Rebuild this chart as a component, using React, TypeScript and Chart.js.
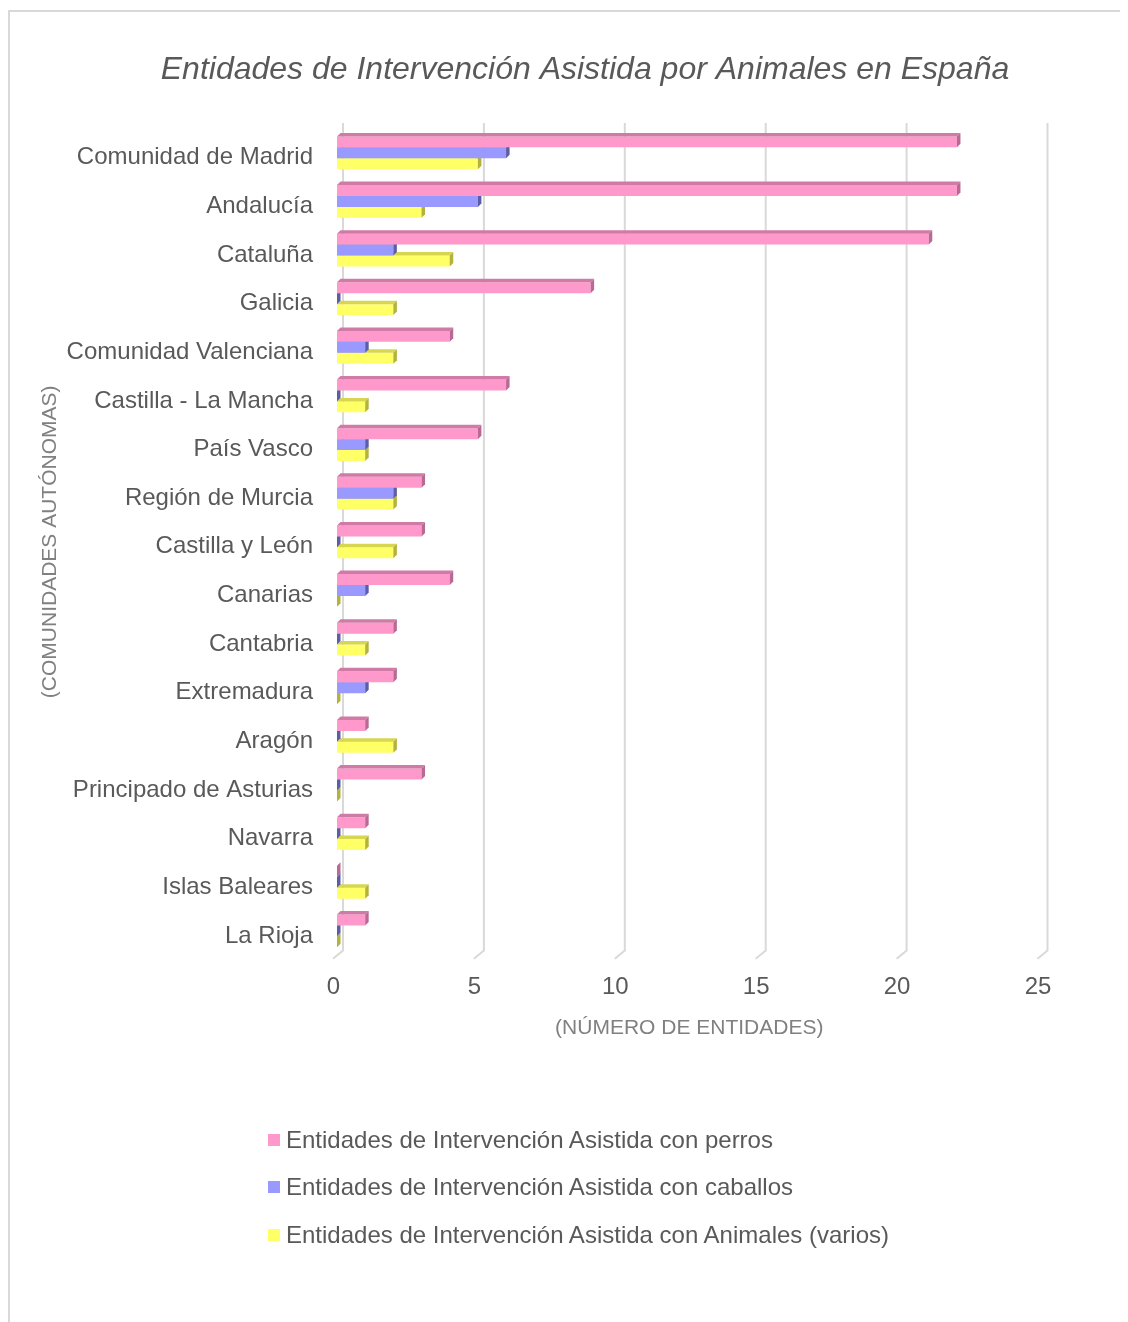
import React, { useEffect, useRef } from "react";
import { Chart, registerables } from "chart.js";

Chart.register(...registerables);

const chartTitle = "Entidades de Intervención Asistida por Animales en España";
const yAxisTitle = "(COMUNIDADES AUTÓNOMAS)";
const xAxisTitle = "(NÚMERO DE ENTIDADES)";

const categories = [
  "Comunidad de Madrid",
  "Andalucía",
  "Cataluña",
  "Galicia",
  "Comunidad Valenciana",
  "Castilla - La Mancha",
  "País Vasco",
  "Región de Murcia",
  "Castilla y León",
  "Canarias",
  "Cantabria",
  "Extremadura",
  "Aragón",
  "Principado de Asturias",
  "Navarra",
  "Islas Baleares",
  "La Rioja",
];

const seriesNames = [
  "Entidades de Intervención Asistida con perros",
  "Entidades de Intervención Asistida con caballos",
  "Entidades de Intervención Asistida con Animales (varios)",
];

const perros = [22, 22, 21, 9, 4, 6, 5, 3, 3, 4, 2, 2, 1, 3, 1, 0, 1];
const caballos = [6, 5, 2, 0, 1, 0, 1, 2, 0, 1, 0, 1, 0, 0, 0, 0, 0];
const varios = [5, 3, 4, 2, 2, 1, 1, 2, 2, 0, 1, 0, 2, 0, 1, 1, 0];

const xMin = 0;
const xMax = 25;
const xStep = 5;

const frontColors = ["#ff99cc", "#9999ff", "#ffff66"];
const topColors = ["#cf7ba6", "#7676c4", "#d6d650"];
const sideColors = ["#b86a92", "#5c5ca8", "#b2b23c"];

const FONT = "'Liberation Sans', Arial, sans-serif";
const DEPTH = 3.5;

const bar3d = {
  id: "bar3d",
  afterDatasetDraw(chart: any, args: any) {
    const i = args.index;
    const ctx = chart.ctx;
    ctx.save();
    args.meta.data.forEach((el: any) => {
      const { x, y, base, height } = el.getProps(["x", "y", "base", "height"], true);
      const top = y - height / 2;
      const bottom = y + height / 2;
      const left = Math.min(x, base);
      const right = Math.max(x, base);
      ctx.fillStyle = topColors[i];
      ctx.beginPath();
      ctx.moveTo(left, top);
      ctx.lineTo(right, top);
      ctx.lineTo(right + DEPTH, top - DEPTH);
      ctx.lineTo(left + DEPTH, top - DEPTH);
      ctx.closePath();
      ctx.fill();
      ctx.fillStyle = sideColors[i];
      ctx.beginPath();
      ctx.moveTo(right, top);
      ctx.lineTo(right + DEPTH, top - DEPTH);
      ctx.lineTo(right + DEPTH, bottom - DEPTH);
      ctx.lineTo(right, bottom);
      ctx.closePath();
      ctx.fill();
    });
    ctx.restore();
  },
};

const grid3d = {
  id: "grid3d",
  beforeDatasetsDraw(chart: any) {
    const ctx = chart.ctx;
    const xs = chart.scales.x;
    const area = chart.chartArea;
    ctx.save();
    ctx.strokeStyle = "#d9d9d9";
    ctx.lineWidth = 2;
    xs.ticks.forEach((t: any) => {
      const px = xs.getPixelForValue(t.value);
      ctx.beginPath();
      ctx.moveTo(px + 6, area.top - 5.5);
      ctx.lineTo(px + 6, area.bottom - 4.7);
      ctx.lineTo(px - 4, area.bottom + 3.6);
      ctx.stroke();
    });
    ctx.restore();
  },
};

export default function App() {
  const canvasRef = useRef<HTMLCanvasElement | null>(null);

  useEffect(() => {
    document.body.style.overflow = "hidden";
    const canvas = canvasRef.current;
    if (!canvas) return;
    const datasets = [perros, caballos, varios].map((d, i) => ({
      label: seriesNames[i],
      data: d,
      backgroundColor: frontColors[i],
      borderWidth: 0,
      barPercentage: 1,
      categoryPercentage: 0.674,
      yAxisID: "y",
    }));
    const chart = new Chart(canvas, {
      type: "bar",
      data: { labels: categories, datasets },
      plugins: [grid3d, bar3d],
      options: {
        indexAxis: "y",
        responsive: false,
        animation: false,
        devicePixelRatio: 1,
        layout: { padding: { left: 0, right: 0, top: 0, bottom: 287.6 } },
        plugins: {
          legend: { display: false },
          tooltip: { enabled: false },
          title: {
            display: true,
            text: chartTitle,
            color: "#595959",
            font: { family: FONT, size: 32, style: "italic", weight: "normal", lineHeight: 1.2 },
            padding: { top: 38.8, bottom: 39.3 },
          },
        },
        scales: {
          x: {
            type: "linear",
            min: xMin,
            max: xMax,
            grid: { display: false, drawTicks: false },
            border: { display: false },
            ticks: {
              stepSize: xStep,
              color: "#595959",
              padding: 17.8,
              labelOffset: -3.5,
              font: { family: FONT, size: 24, lineHeight: 1.2 },
            },
            title: {
              display: true,
              text: xAxisTitle,
              color: "#808080",
              font: { family: FONT, size: 21, lineHeight: 0.8 },
              padding: { top: 0, bottom: 0 },
            },
          },
          y: {
            type: "category",
            position: "left",
            grid: { display: false, drawTicks: false },
            border: { display: false },
            afterFit: (scale: any) => {
              scale.width = 327;
            },
            ticks: {
              color: "#595959",
              padding: 24,
              labelOffset: 5,
              autoSkip: false,
              font: { family: FONT, size: 24, lineHeight: 1.2 },
            },
            title: {
              display: true,
              text: yAxisTitle,
              color: "#808080",
              font: { family: FONT, size: 21, lineHeight: 1.2 },
              padding: { top: 27.4, bottom: 0 },
            },
          },
          ySpacer: {
            type: "category",
            position: "right",
            labels: categories,
            grid: { display: false, drawTicks: false },
            border: { display: false },
            ticks: { display: false },
            afterFit: (scale: any) => {
              scale.width = 118.5;
            },
          },
        },
      },
    } as any);
    return () => chart.destroy();
  }, []);

  return (
    <div
      style={{
        position: "relative",
        top: 2,
        width: 1120,
        height: 1316,
        borderTop: "2px solid #d9d9d9",
        borderLeft: "2px solid #d9d9d9",
        boxSizing: "border-box",
        background: "#ffffff",
        overflow: "hidden",
      }}
    >
      <canvas ref={canvasRef} width={1150} height={1312} style={{ display: "block" }} />
      <div
        style={{
          position: "absolute",
          left: 258,
          top: 1103.75,
          fontFamily: FONT,
          fontSize: 24,
          color: "#595959",
        }}
      >
        {seriesNames.map((name, i) => (
          <div
            key={name}
            style={{ display: "flex", alignItems: "center", height: 47.5, whiteSpace: "nowrap" }}
          >
            <span
              style={{
                display: "inline-block",
                width: 12,
                height: 12,
                background: frontColors[i],
                marginRight: 6,
              }}
            />
            <span>{name}</span>
          </div>
        ))}
      </div>
    </div>
  );
}
